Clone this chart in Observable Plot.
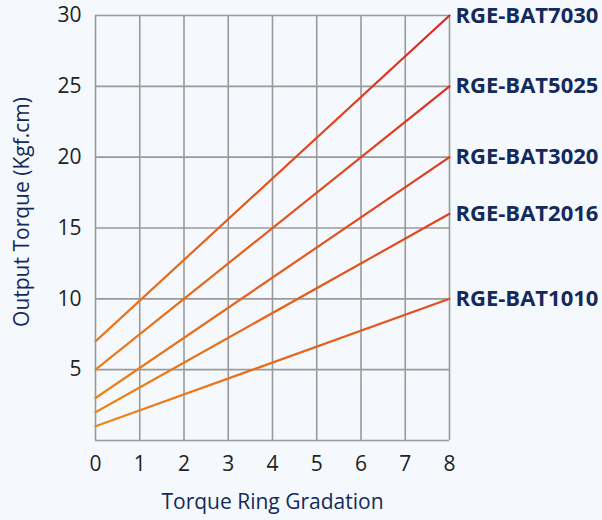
<!DOCTYPE html>
<html><head>
<meta charset="utf-8">
<script src="https://cdn.jsdelivr.net/npm/d3@7"></script>
<script src="https://cdn.jsdelivr.net/npm/@observablehq/plot@0.6"></script>
<style>body{margin:0;background:#f5f9fd;} #chart{width:602px;height:520px;}</style>
</head><body><div id="chart"></div>
<script>
const models = ["RGE-BAT1010","RGE-BAT2016","RGE-BAT3020","RGE-BAT5025","RGE-BAT7030"];
const startTorque = [1, 2, 3, 5, 7];
const endTorque = [10, 16, 20, 25, 30];
const gradationRange = [0, 8];
const xTicks = [0, 1, 2, 3, 4, 5, 6, 7, 8];
const yTicks = [5, 10, 15, 20, 25, 30];
const yGrid = [0, 5, 10, 15, 20, 25, 30];

const rows = models.flatMap((m, i) => [
  {model: m, g: gradationRange[0], t: startTorque[i]},
  {model: m, g: gradationRange[1], t: endTorque[i]}
]);
const ends = models.map((m, i) => ({model: m, g: gradationRange[1], t: endTorque[i]}));

const navy = "#14295c";
const gradientDefs = (index, scales) => {
  const defs = d3.create("svg:defs");
  const lg = defs.append("linearGradient")
    .attr("id", "torqueGrad")
    .attr("gradientUnits", "userSpaceOnUse")
    .attr("x1", scales.x(0)).attr("y1", scales.y(0))
    .attr("x2", scales.x(8)).attr("y2", scales.y(30));
  lg.append("stop").attr("offset", "0%").attr("stop-color", "#ec8a18");
  lg.append("stop").attr("offset", "100%").attr("stop-color", "#dc2420");
  return defs.node();
};

const chart = Plot.plot({
  width: 602,
  height: 520,
  marginLeft: 95,
  marginRight: 153,
  marginTop: 15,
  marginBottom: 80,
  style: {background: "#f5f9fd", fontFamily: "'Open Sans', sans-serif", fontSize: "20px", color: "#222"},
  x: {domain: [0, 8]},
  y: {domain: [0, 30]},
  marks: [
    gradientDefs,
    Plot.gridX(xTicks, {stroke: "#9a9a9a", strokeOpacity: 1, strokeWidth: 1.6}),
    Plot.gridY(yGrid, {stroke: "#9a9a9a", strokeOpacity: 1, strokeWidth: 1.6}),
    Plot.axisX(xTicks, {tickSize: 0, tickPadding: 16, label: null, fill: "#222", fontSize: 21}),
    Plot.axisY(yTicks, {tickSize: 0, tickPadding: 14, label: null, fill: "#222", fontSize: 21}),
    Plot.text(["Output Torque (Kgf.cm)"], {frameAnchor: "left", textAnchor: "middle", lineAnchor: "middle", rotate: -90, dx: -73, dy: -16, fill: navy, fontSize: 21}),
    Plot.text(["Torque Ring Gradation"], {frameAnchor: "bottom", textAnchor: "middle", lineAnchor: "middle", dy: 62, fill: navy, fontSize: 21}),
    Plot.line(rows, {x: "g", y: "t", z: "model", stroke: "url(#torqueGrad)", strokeWidth: 2.2}),
    Plot.text(ends, {x: "g", y: "t", text: "model", dx: 6, textAnchor: "start", fill: navy, fontWeight: "bold", fontSize: 22})
  ]
});
document.getElementById("chart").appendChild(chart);
</script>
</body></html>
